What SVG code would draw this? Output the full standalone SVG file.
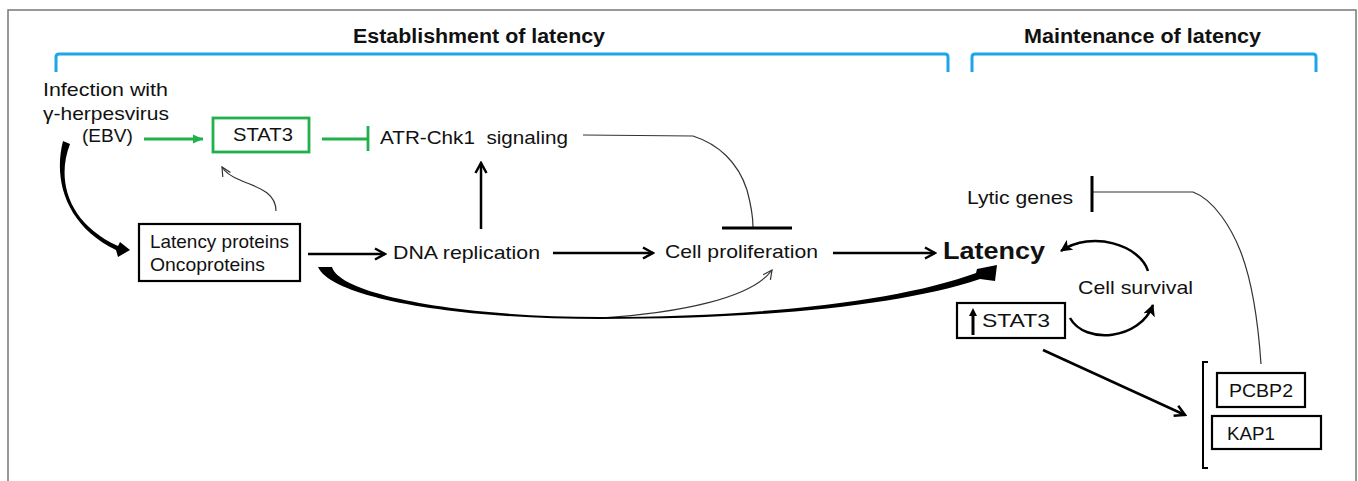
<svg xmlns="http://www.w3.org/2000/svg" width="1358" height="481" viewBox="0 0 1358 481">
<style>
text{font-family:"Liberation Sans",Arial,sans-serif;fill:#111;}
.t{font-size:19px;}
.b{font-size:20px;font-weight:bold;}
.ln{fill:none;stroke:#000;stroke-width:2.5;}
.thin{fill:none;stroke:#333;stroke-width:1.2;}
.box{fill:#fff;stroke:#000;stroke-width:2.2;}
.blue{fill:none;stroke:#1ca6e6;stroke-width:3;}
.green{fill:none;stroke:#22b04b;stroke-width:2.8;}
</style>
<defs>
<marker id="arr" viewBox="0 0 14 14" refX="12" refY="7" markerWidth="14" markerHeight="14" markerUnits="userSpaceOnUse" orient="auto">
<path d="M2,1.5 L12,7 L2,12.5" fill="none" stroke="#000" stroke-width="2.5"/>
</marker>
<marker id="garr" viewBox="0 0 10 10" refX="10" refY="5" markerWidth="10" markerHeight="10" markerUnits="userSpaceOnUse" orient="auto">
<path d="M0,0.5 L10,5 L0,9.5 Z" fill="#22b04b"/>
</marker>
<marker id="tarr" viewBox="0 0 12 12" refX="11" refY="6" markerWidth="12" markerHeight="12" markerUnits="userSpaceOnUse" orient="auto">
<path d="M2,1.5 L11,6 L2,10.5" fill="none" stroke="#333" stroke-width="1.2"/>
</marker>
<marker id="farr" viewBox="0 0 12 12" refX="11" refY="6" markerWidth="12" markerHeight="12" markerUnits="userSpaceOnUse" orient="auto">
<path d="M0,0 L12,6 L0,12 L3,6 Z" fill="#000"/>
</marker>
</defs>
<rect x="8" y="10" width="1348" height="490" fill="#fff" stroke="#777" stroke-width="1.5"/>

<g id="brackets">
<path class="blue" d="M56,72 L56,57 Q56,54 59,54 L945,54 Q948,54 948,57 L948,72"/>
<path class="blue" d="M972,72 L972,57 Q972,54 975,54 L1313,54 Q1316,54 1316,57 L1316,72"/>
<text class="b" x="353" y="43" textLength="252" lengthAdjust="spacingAndGlyphs">Establishment of latency</text>
<text class="b" x="1024" y="43" textLength="237" lengthAdjust="spacingAndGlyphs">Maintenance of latency</text>
</g>

<g id="infection">
<text class="t" x="43" y="96" textLength="125" lengthAdjust="spacingAndGlyphs">Infection with</text>
<text class="t" x="43" y="120" textLength="126" lengthAdjust="spacingAndGlyphs">γ-herpesvirus</text>
<text class="t" x="82" y="142" textLength="51" lengthAdjust="spacingAndGlyphs">(EBV)</text>
</g>

<g id="stat3-green">
<rect x="213" y="118" width="96" height="34" fill="#fff" stroke="#22b04b" stroke-width="2.8"/>
<text class="t" x="233" y="141" textLength="60" lengthAdjust="spacingAndGlyphs">STAT3</text>
</g>

<g id="atr">
<text class="t" x="380" y="144" textLength="188" lengthAdjust="spacingAndGlyphs" style="white-space:pre" xml:space="preserve">ATR-Chk1  signaling</text>
</g>

<g id="latency-proteins">
<rect class="box" x="139" y="224" width="161" height="57"/>
<text class="t" x="150" y="248" textLength="139" lengthAdjust="spacingAndGlyphs">Latency proteins</text>
<text class="t" x="150" y="271" textLength="115" lengthAdjust="spacingAndGlyphs">Oncoproteins</text>
</g>

<g id="dna">
<text class="t" x="393" y="259" textLength="147" lengthAdjust="spacingAndGlyphs">DNA replication</text>
</g>

<g id="proliferation">
<text class="t" x="665" y="258" textLength="153" lengthAdjust="spacingAndGlyphs">Cell proliferation</text>
</g>

<g id="latency">
<text x="943" y="259" textLength="102" lengthAdjust="spacingAndGlyphs" style="font-size:24px;font-weight:bold">Latency</text>
</g>

<g id="lytic">
<text class="t" x="967" y="204" textLength="106" lengthAdjust="spacingAndGlyphs">Lytic genes</text>
</g>

<g id="survival">
<text class="t" x="1078" y="294" textLength="115" lengthAdjust="spacingAndGlyphs">Cell survival</text>
</g>

<g id="stat3-up">
<rect class="box" x="957" y="303" width="108" height="35"/>
<line x1="973" y1="335" x2="973" y2="314" stroke="#000" stroke-width="3"/>
<path d="M969,316 L973,308 L977,316 Z" fill="#000"/>
<text class="t" x="982" y="327" textLength="68" lengthAdjust="spacingAndGlyphs">STAT3</text>
</g>

<g id="factors">
<path d="M1208,362 L1203,362 L1203,468 L1208,468" fill="none" stroke="#000" stroke-width="2"/>
<rect class="box" x="1217" y="373" width="88" height="34"/>
<text class="t" x="1229" y="397" textLength="64" lengthAdjust="spacingAndGlyphs">PCBP2</text>
<rect class="box" x="1212" y="416" width="109" height="33"/>
<text class="t" x="1227" y="440" textLength="48" lengthAdjust="spacingAndGlyphs">KAP1</text>
</g>

<g id="connectors">
<line x1="144" y1="139" x2="203" y2="139" stroke="#22b04b" stroke-width="2.8" marker-end="url(#garr)"/>
<line class="green" x1="322" y1="139" x2="367" y2="139"/>
<line class="green" x1="368" y1="126" x2="368" y2="151"/>
<line class="ln" x1="481" y1="229" x2="481" y2="163" marker-end="url(#arr)"/>
<line class="ln" x1="308" y1="254" x2="385" y2="254" marker-end="url(#arr)"/>
<line class="ln" x1="553" y1="253" x2="653" y2="253" marker-end="url(#arr)"/>
<line class="ln" x1="833" y1="253" x2="935" y2="253" marker-end="url(#arr)"/>
<path class="thin" d="M583,135 L693,136 C718,144 738,162 747,190 C751,205 753,215 753,227"/>
<line x1="722" y1="228" x2="792" y2="228" stroke="#000" stroke-width="3"/>
<path class="thin" d="M276,211 C276,190 252,186 240,180 C230,176 225,172 222,167" marker-end="url(#tarr)"/>
<path class="thin" d="M600,318 C680,313 752,298 772,270" marker-end="url(#tarr)"/>
<path d="M63,141 C53,180 66,226 116,250 L118,257 L130,250 L120,242 L118,246 C68,223 56,180 70,144 Z" fill="#000"/>
<path d="M318,267 C332,298 455,319 600,319 C760,319 900,306 980,279 L995,281 L997,265 L977,269 L976,273 C900,301 760,317 600,317 C462,317 340,295 332,267 Z" fill="#000"/>
<path class="thin" d="M1092,192 L1193,192 C1215,200 1232,230 1240,250 C1252,280 1258,320 1261,364"/>
<line x1="1092" y1="176" x2="1092" y2="212" stroke="#000" stroke-width="3"/>
<path d="M1148,271 C1140,245 1092,230 1061,251" fill="none" stroke="#000" stroke-width="2.5" marker-end="url(#farr)"/>
<path d="M1070,318 C1085,345 1140,340 1153,305" fill="none" stroke="#000" stroke-width="2.5" marker-end="url(#farr)"/>
<line class="ln" x1="1043" y1="350" x2="1185" y2="415" marker-end="url(#arr)"/>
</g>
</svg>
